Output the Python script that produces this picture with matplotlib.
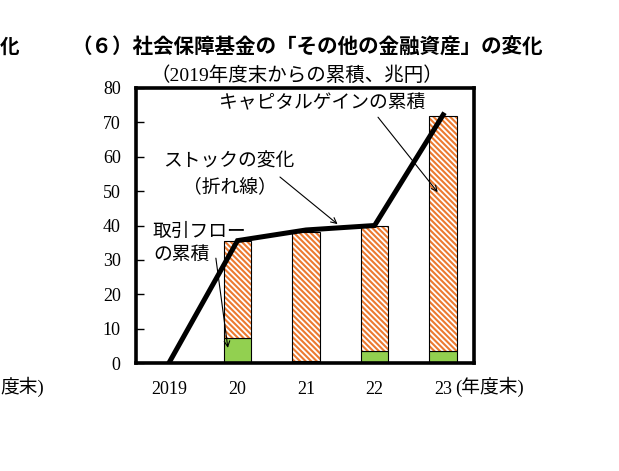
import matplotlib
matplotlib.use("Agg")
import matplotlib.pyplot as plt
import numpy as np

# ---- data ----
years = ["2019", "20", "21", "22", "23"]
stock_change = [0.0, 35.6, 38.7, 40.0, 72.2]          # line
bar_years = ["20", "21", "22", "23"]
flow_cum = [7.2, 0.6, 3.5, 3.5]                       # green
capgain_cum = [28.4, 37.6, 36.5, 68.3]                # orange hatched
yticks = [0, 10, 20, 30, 40, 50, 60, 70, 80]

W, H = 619, 471
plt.rcParams['hatch.linewidth'] = 1.5
SERIF = ['Liberation Serif', 'Noto Sans CJK JP']
ORANGE = '#EC7A30'
GREEN = '#92D050'

fig = plt.figure(figsize=(W / 100, H / 100), dpi=100)
ax = fig.add_axes([136 / W, 1 - 363 / H, (474 - 136) / W, (363 - 88) / H])

x_line = np.arange(len(years))
x_bar = np.array([years.index(y) for y in bar_years])
bw = 0.40

ax.bar(x_bar, flow_cum, width=bw, color=GREEN, edgecolor='black', linewidth=0.8, zorder=2)
ax.bar(x_bar, capgain_cum, width=bw, bottom=flow_cum, color='white',
       edgecolor=ORANGE, hatch='\\' * 6, linewidth=0, zorder=2)
ax.bar(x_bar, capgain_cum, width=bw, bottom=flow_cum, fill=False,
       edgecolor='black', linewidth=0.8, zorder=3)

ax.plot(x_line, stock_change, color='black', linewidth=3.6, zorder=4,
        solid_joinstyle='miter')

ax.set_xlim(-0.48, 4.45)
ax.set_ylim(0, 80)
ax.set_yticks(yticks)
ax.set_xticks(x_line)
ax.set_xticklabels(years)
ax.tick_params(axis='y', direction='in', length=6, width=1, pad=11)
ax.tick_params(axis='x', length=0, pad=13)
for lab in ax.get_xticklabels() + ax.get_yticklabels():
    lab.set_fontfamily(SERIF)
    lab.set_fontsize(13)
for s in ax.spines.values():
    s.set_linewidth(2.6)
    s.set_color('black')

arrow = dict(arrowstyle='->', color='black', lw=0.8, shrinkA=0, shrinkB=0)
ax.text(2.24, 75.6, "キャピタルゲインの累積", ha='center', va='center',
        fontsize=13.5, family=SERIF)
ax.annotate("", xy=(3.92, 49.7), xytext=(3.05, 71.5), arrowprops=arrow)

ax.text(0.88, 58.5, "ストックの変化", ha='center', va='center', fontsize=13.5, family=SERIF)
ax.text(0.89, 51.2, "（折れ線）", ha='center', va='center', fontsize=13.5, family=SERIF)
ax.annotate("", xy=(2.46, 40.4), xytext=(1.62, 54.1), arrowprops=arrow)

ax.text(-0.233, 38.1, "取引フロー", ha='left', va='center', fontsize=13.5, family=SERIF)
ax.text(-0.233, 31.4, "の累積", ha='left', va='center', fontsize=13.5, family=SERIF)
ax.annotate("", xy=(0.86, 4.4), xytext=(0.685, 30.5), arrowprops=arrow)

def ftxt(px, py, s, **kw):
    fig.text(px / W, 1 - py / H, s, **kw)

ftxt(455, 387, "(年度末)", ha='left', va='center', fontsize=13.5, family=SERIF)
ftxt(307, 47, "（６）社会保障基金の「その他の金融資産」の変化", ha='center', va='center',
     fontsize=14.8, family=['Noto Sans CJK JP'], fontweight='bold')
ftxt(297, 76, "（2019年度末からの累積、兆円）", ha='center', va='center',
     fontsize=14, family=SERIF)
# fragments of the neighbouring chart on the left
ftxt(0, 47, "化", ha='left', va='center', fontsize=14,
     family=['Noto Sans CJK JP'], fontweight='bold')
ftxt(44, 387, "度末)", ha='right', va='center', fontsize=13.5, family=SERIF)

fig.savefig("out.png", dpi=100)
